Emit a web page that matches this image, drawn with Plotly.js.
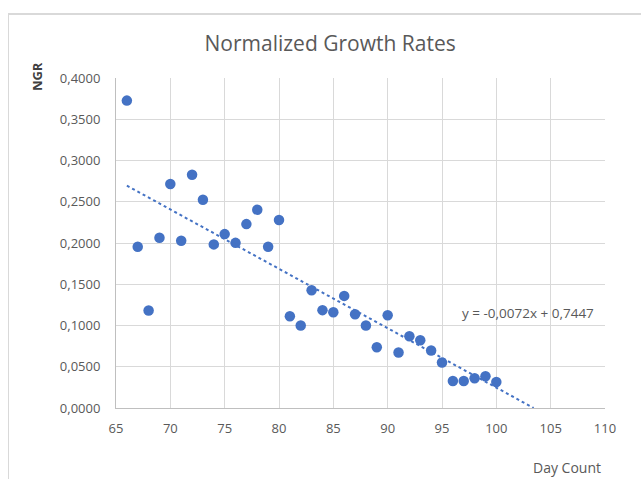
<!DOCTYPE html>
<html>
<head>
<meta charset="utf-8">
<script src="https://cdn.plot.ly/plotly-3.0.1.min.js"></script>
<style>
  html, body { margin: 0; padding: 0; background: #fff; }
  #frame { position: absolute; left: 8px; top: 13px; width: 700px; height: 520px;
           border-left: 1px solid #D9D9D9; border-top: 2px solid #D9D9D9; }
  #chart { position: absolute; left: 0; top: 0; width: 641px; height: 479px; }
</style>
</head>
<body>
<div id="frame"></div>
<div id="chart"></div>
<script>
const days = [66, 67, 68, 69, 70, 71, 72, 73, 74, 75, 76, 77, 78, 79, 80, 81, 82, 83,
              84, 85, 86, 87, 88, 89, 90, 91, 92, 93, 94, 95, 96, 97, 98, 99, 100];
const ngr = [0.3726, 0.1954, 0.1182, 0.2063, 0.2715, 0.2027, 0.2828, 0.2524, 0.1983,
             0.2108, 0.2002, 0.2229, 0.2403, 0.1954, 0.2278, 0.1113, 0.1000, 0.1428,
             0.1186, 0.1161, 0.1359, 0.1137, 0.1000, 0.0737, 0.1125, 0.0672, 0.0870,
             0.0822, 0.0697, 0.0551, 0.0328, 0.0328, 0.0360, 0.0385, 0.0316];
const trendSlope = -0.0072;
const trendIntercept = 0.7447;
const trendLabel = "y = -0,0072x + 0,7447";
const xTicks = [65, 70, 75, 80, 85, 90, 95, 100, 105, 110];
const yTicks = [0, 0.05, 0.10, 0.15, 0.20, 0.25, 0.30, 0.35, 0.40];

const trendStart = days[0];
const trendEnd = -trendIntercept / trendSlope;
const trendX = [trendStart, trendEnd];
const trendY = trendX.map(x => trendSlope * x + trendIntercept);

const blue = "#4472C4";
const gray = "#595959";
const fontFam = "Open Sans, Liberation Sans, sans-serif";

const data = [
  { x: days, y: ngr, type: "scatter", mode: "markers",
    marker: { color: blue, size: 10.5 }, hoverinfo: "x+y", showlegend: false },
  { x: trendX, y: trendY, type: "scatter", mode: "lines",
    line: { color: blue, width: 2, dash: "dot" }, showlegend: false }
];

const layout = {
  width: 641, height: 479,
  paper_bgcolor: "rgba(0,0,0,0)", plot_bgcolor: "rgba(0,0,0,0)",
  separators: ",.",
  font: { family: fontFam, color: gray, size: 12 },
  margin: { l: 116, r: 36, t: 78, b: 71 },
  title: { text: "Normalized Growth Rates", x: 0.515, xanchor: "center",
           y: 0.908, yanchor: "middle",
           font: { family: fontFam, size: 21, color: gray } },
  xaxis: { range: [65, 110], tickvals: xTicks, ticktext: xTicks.map(String),
           showgrid: true, gridcolor: "#D9D9D9", gridwidth: 1,
           showline: true, linecolor: "#BFBFBF", linewidth: 1,
           zeroline: false, ticks: "", ticklabelstandoff: 8,
           tickfont: { size: 13, color: gray } },
  yaxis: { range: [0, 0.4], tickvals: yTicks, tickformat: ".4f",
           showgrid: true, gridcolor: "#D9D9D9", gridwidth: 1,
           showline: true, linecolor: "#BFBFBF", linewidth: 1,
           zeroline: false, ticks: "", ticklabelstandoff: 12,
           tickfont: { size: 13, color: gray } },
  annotations: [
    { text: trendLabel, xref: "x", yref: "y", x: 96.7, y: 0.115,
      xanchor: "left", yanchor: "middle", showarrow: false,
      font: { size: 13.5, color: gray } },
    { text: "NGR", xref: "paper", yref: "paper", x: -0.16, y: 1.005,
      xanchor: "center", yanchor: "middle", showarrow: false, textangle: -90,
      font: { size: 13, color: "#404040", weight: "bold" } },
    { text: "Day Count", xref: "paper", yref: "paper", x: 0.996, y: -0.18,
      xanchor: "right", yanchor: "middle", showarrow: false,
      font: { size: 14, color: gray } }
  ]
};

Plotly.newPlot("chart", data, layout, { displayModeBar: false, staticPlot: true });
</script>
</body>
</html>
